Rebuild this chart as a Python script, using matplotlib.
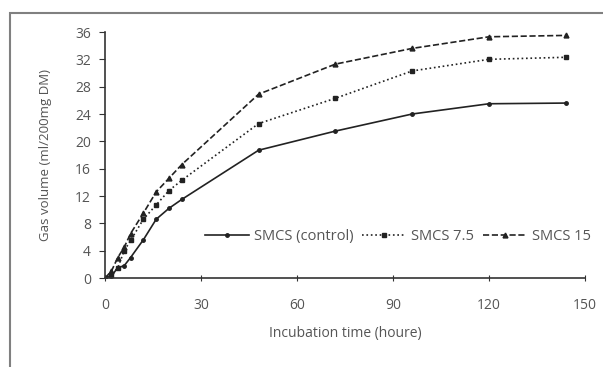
import matplotlib
matplotlib.use("Agg")
import matplotlib.pyplot as plt
from matplotlib.patches import Rectangle

times = [0, 2, 4, 6, 8, 12, 16, 20, 24, 48, 72, 96, 120, 144]
control = [0, 0.3, 1.5, 1.8, 3.0, 5.6, 8.6, 10.2, 11.5, 18.7, 21.5, 24.0, 25.5, 25.6]
smcs75 = [0, 0.5, 1.5, 4.0, 5.5, 8.6, 10.7, 12.8, 14.3, 22.6, 26.3, 30.3, 32.0, 32.3]
smcs15 = [0, 1.0, 3.0, 4.5, 6.5, 9.5, 12.6, 14.6, 16.6, 26.9, 31.3, 33.6, 35.3, 35.5]
labels = ["SMCS (control)", "SMCS 7.5", "SMCS 15"]
xticks = [0, 30, 60, 90, 120, 150]
yticks = [0, 4, 8, 12, 16, 20, 24, 28, 32, 36]

plt.rcParams['font.family'] = ['Open Sans', 'DejaVu Sans']
tc = '#555555'

fig = plt.figure(figsize=(6.03, 3.67), dpi=100)
fig.patches.append(Rectangle((10/603, -0.1), 1.2, 1 - 13/367 + 0.1, transform=fig.transFigure,
                             fill=False, edgecolor='#808080', linewidth=1.5))
ax = fig.add_axes([105/603, 1 - 278/367, (585 - 105)/603, (278 - 32)/367])

ax.plot(times, control, '-', color='#222222', lw=1.2, marker='o', ms=2.5, label=labels[0])
ax.plot(times, smcs75, ':', color='#222222', lw=1.2, marker='s', ms=3.5, label=labels[1])
ax.plot(times, smcs15, '--', color='#222222', lw=1.2, marker='^', ms=3.5, label=labels[2])

ax.set_xlim(0, 150)
ax.set_ylim(0, 36)
ax.set_xticks(xticks)
ax.set_yticks(yticks)
for s in ['top', 'right']:
    ax.spines[s].set_visible(False)
for s in ['left', 'bottom']:
    ax.spines[s].set_color('#333333')
    ax.spines[s].set_linewidth(1.2)
ax.tick_params(axis='x', direction='inout', length=5, labelsize=10, pad=12, labelcolor=tc, color='#333333')
ax.tick_params(axis='y', direction='out', length=4, labelsize=10, pad=6, labelcolor=tc, color='#333333')
ax.set_xlabel("Incubation time (houre)", color=tc, fontsize=10, labelpad=9)
ax.set_ylabel("Gas volume (ml/200mg DM)", color=tc, fontsize=9.5, labelpad=17)

ax.legend(loc='center left', bbox_to_anchor=(0.208, 0.167), ncol=3, frameon=False, fontsize=10.5,
          handlelength=3.0, columnspacing=0.6, handletextpad=0.35, labelcolor=tc,
          borderaxespad=0, borderpad=0)

fig.savefig("out.png", dpi=100)
